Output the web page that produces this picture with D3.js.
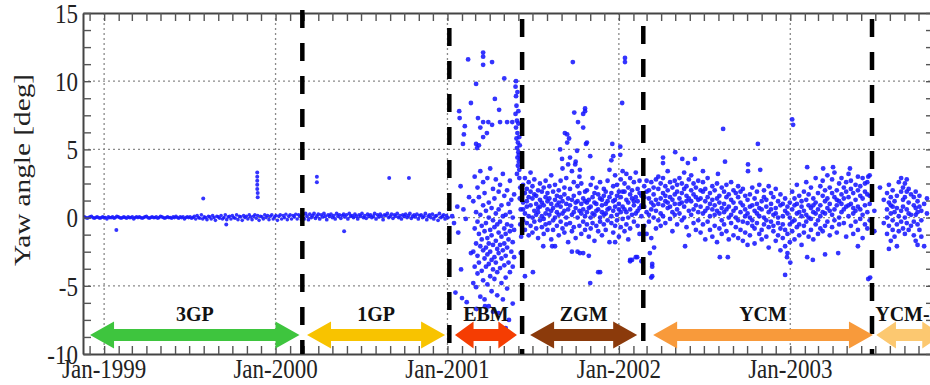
<!DOCTYPE html>
<html>
<head>
<meta charset="utf-8">
<script src="https://cdn.jsdelivr.net/npm/d3@7"></script>
<style>
  body { margin: 0; background: #fff; }
  svg text { font-family: "Liberation Serif", "DejaVu Serif", serif; }
</style>
</head>
<body>
<svg id="chart" width="930" height="385"></svg>
<script>
// days are counted from 1 Jan 1999, yaw in degrees
const lineStep = 3;
const gp3Start = -45;
const gp3Yaw = [
  0,.05,0,-.05,0,.05,.1,0,-.05,0, .05,0,-.05,0,.05,0,0,-.1,.05,0,
  0,.05,-.05,0,.1,.05,0,-.05,0,.05, 0,-.05,.05,0,0,.05,-.1,0,.05,0,
  .05,0,-.05,0,.05,.1,0,-.05,0,.05, 0,0,.05,-.05,0,.1,.05,0,-.05,0,
  .05,0,0,-.05,.05,0,.1,0,-.05,.05, 0,.05,-.1,0,.05,0,.05,-.05,0,.1,
  -.1,.15,0,-.05,.2,-.1,.05,0,-.15,.1, .05,-.1,.15,0,-.2,.1,.05,-.05,.15,-.1,
  0,.2,-.15,.05,.1,-.1,.15,0,-.05,.2, -.15,.1,.05,-.2,.15,0,.1,-.1,.2,.05,
  -.15,.1,.2,-.05,.15,-.2,.1,.05,-.1,.2, 0,.15,-.15,.1,.2,-.1,.05,.15,-.2,.1,
  .2,-.1,.15,0,.25,-.15,.1,.2,-.1,.15, .05,.25,-.1,.2,.1,-.15
];
const gp1Start = 423;
const gp1Yaw = [
  .2,-.1,.3,.1,-.15,.25,0,.15,.3,-.05, .1,.25,-.1,.2,.05,.3,.1,-.15,.2,.1,
  .25,0,.15,-.1,.3,.1,.2,-.05,.15,.25, .05,.2,-.1,.3,.1,.15,0,.25,.1,-.1,
  .2,.1,.3,0,.15,-.05,.25,.1,.2,0, .1,.3,-.1,.2,.05,.25,.1,-.15,.2,.15,
  .3,0,.1,.25,-.05,.2,.1,.3,0,.15, -.1,.2,.1,.25,0,.15,.3,-.05,.1,.2,
  .05,.25,-.1,.15,.2,0,.1,.3,-.15,.1, .2,0,.25,-.1,.1,.15,-.2,.3,0,.1,
  .2,-.1,.15,0
];
const gpOutliers = [
  [26,-.9],[211,1.4],[260,-.5],[326,3.3],[326,3.0],[326,2.7],[326,2.4],[326,2.1],[327,1.8],[327,1.5],
  [453,3.0],[453,2.6],[511,-1.0],[607,2.9],[649,2.9]
];

// rows: [day, yaw, yaw, ...]
const ebmYaw = [
  [741,0.1],[745,-0.4],[748,-5.5],[752,0.8],[754,-1.1],[759,2.3],[760,-3.8],[762,-5.9],[765,0.6],[770,-0.1],[772,-6.2],[777,1.5],[781,-2.6],
  [786,1.2,-2.5,-4.8],[789,3.0,-0.8,-3.6],[792,0.4,-1.9,-5.1],[795,2.2,-0.3,-2.8,-4.1],
  [798,1.5,-1.2,-3.3],[801,3.4,0.2,-2.1,-5.8],[804,-0.6,-1.6,-3.9],[807,2.6,0.9,-2.4,-4.6],
  [810,1.8,-1.0,-3.0,-6.0],[813,0.5,-0.4,-2.2,-3.6],[816,2.9,-1.5,-2.7,-4.9],[819,1.1,0.0,-1.9,-3.4,-6.5],
  [822,3.6,-0.9,-2.5,-4.3],[825,0.7,-1.3,-3.1,-5.4],[828,2.1,-0.2,-2.0,-3.8,-6.9],[831,1.4,-0.7,-2.9,-4.5],
  [834,2.8,0.3,-1.7,-3.3],[837,-0.5,-2.3,-4.0,-5.7],[840,1.9,0.6,-1.1,-2.6,-7.0],[843,2.4,-0.3,-2.0,-3.7],
  [846,0.9,-1.4,-3.0,-4.8],[849,3.2,0.1,-2.4,-6.0],[852,1.6,-0.8,-1.9,-3.5],[855,0.2,-1.2,-2.8,-4.4,-8.1],
  [858,2.0,-0.5,-2.2,-5.2],[861,1.0,-1.6,-3.3],[864,2.7,0.4,-1.0,-4.0],[867,1.3,-0.6,-2.5],
  [870,0.0,-1.8,-3.6,-6.3],[873,1.7,-0.9,-2.9],[862,-7.5],[793,-6.7],[811,-6.5],
  [756,7.8],[757,7.3],[764,5.4],[766,6.1],[768,6.7],[775,11.6],[781,8.4],[792,9.8,5.4],[794,5.1],
  [796,7.3],[798,5.3],[801,6.6],[807,12.1,11.8,11.2,7.0,5.9],[815,6.2],[818,7.0],[826,11.4,6.8],
  [832,8.7],[841,7.9],[843,7.0],[852,10.2],[858,7.0],[869,7.0],[877,10.0],
  [876,9.6,7.6],[877,8.9,6.6],[878,8.2,5.8],[879,7.1,5.1,3.2],[880,6.2,4.4,9.2],[881,5.5,3.8],
  [882,4.8,6.9,7.8],[883,4.1,4.6],[884,3.5,2.9,5.9],[885,5.3,1.4],[886,2.2,-0.5,4.3],[887,0.6,-2.6],[888,-1.4]
];

const zgmYaw = [
  [892,2.4,1.1,-0.2,0.6],[896,1.8,0.3,2.9,-0.9],[900,1.2,-0.4,2.1,0.8],[904,2.6,0.1,1.5,-1.3],
  [908,0.9,-0.6,1.9,3.3],[912,1.4,0.0,-1.1,2.3],[916,0.5,1.7,-0.3,2.8],[920,1.0,-0.8,0.2,1.6],
  [924,2.0,0.7,-1.5,0.4],[928,1.3,-0.2,2.5,0.8],[932,0.1,1.1,-0.7,1.9],[936,0.9,2.2,-0.1,-1.2],
  [940,1.5,0.3,-0.5,2.7],[944,0.6,-0.9,1.2,1.8],[948,0.2,1.4,-0.4,2.3],[952,1.0,-1.6,0.5,3.1],
  [956,0.7,1.9,-0.2,-0.9],[960,1.3,0.0,2.4,-2.1],[964,0.4,1.6,-0.6,0.9],[968,1.1,-1.3,2.0,0.2],
  [972,0.8,2.7,-0.3,1.5],[976,0.3,-0.8,1.2,3.6],[980,1.7,0.5,-1.1,2.2],[984,0.0,1.0,2.9,-0.5],
  [988,1.4,-1.8,0.6,3.9],[992,0.9,2.1,-0.4,4.4],[996,0.2,1.3,-1.0,3.4],[1000,1.6,0.4,-0.7,2.6],
  [1004,0.7,-1.5,1.1,4.1],[1008,1.2,0.0,2.3,-2.5],[1012,0.5,-0.6,1.8,3.0],[1016,1.0,2.5,-1.2,0.3],
  [1020,0.6,1.4,-0.3,-2.6],[1024,1.9,0.1,-0.9,1.2],[1028,0.4,2.0,-0.5,1.1],[1032,1.3,-1.4,0.7,-2.8],
  [1036,0.8,2.4,0.0,-0.8],[1040,1.5,-0.4,0.3,2.9],[1044,0.2,1.1,-1.7,1.8],[1048,1.0,0.5,-0.6,2.2],
  [1052,0.6,1.7,-1.0,-4.0],[1056,1.4,0.0,2.6,-0.3],[1060,0.9,-1.3,1.3,0.4],[1064,1.6,0.2,-0.5,2.1],
  [1068,0.3,1.9,-0.9,1.0],[1072,1.2,-0.2,2.7,0.6],[1076,0.7,1.5,-1.8,3.5],[1080,1.8,0.1,-0.4,4.2],
  [1084,0.5,2.3,-1.1,1.2],[1088,1.3,-0.6,0.8,3.1],[1092,0.2,1.6,-0.2,2.4],[1096,1.0,-1.4,0.6,1.9],
  [1100,1.5,0.4,2.8,-0.7],[1104,0.8,-0.1,1.9,3.4],[1108,1.9,0.6,-1.0,2.5],[1112,0.4,1.3,-0.5,3.2],
  [1116,1.1,2.2,0.0,-1.6],[1120,0.6,1.7,-0.8,2.9],[1124,1.4,0.2,-3.1,2.0],[1128,0.9,2.6,-0.3,1.2],
  [1132,0.3,1.5,-2.9,3.3],[1136,1.2,-0.6,2.1,0.5],[1140,0.7,1.8,-1.2,2.7],[1144,1.6,0.1,0.9,-3.2],
  [998,11.4],[1024,8.0,7.8],[1020,7.6,6.6],[1001,7.7],[1009,7.0],[986,6.1,5.5],[990,5.8],[981,6.2],
  [1026,5.4],[1028,5.5],[1082,5.4],[1084,4.5],[1099,4.6,5.2],[1035,4.5],[1109,11.7,11.4],[1103,8.4],
  [971,5.0],[975,4.3],[1003,3.9],[1013,3.5],[1007,4.9],
  [913,-4.0],[1035,-4.8],[1056,-4.0],[1088,-1.8],[1120,-3.1,-3.2],[1135,-2.9],[996,-2.5],[1013,-2.6],
  [896,-4.3],[954,-2.1],[935,-2.1]
];

const ycmYaw = [
  [1150,0.8,2.3,-0.6,1.5],[1155,1.9,-1.2,0.4,2.7],[1160,0.2,1.4,-0.3,2.0],[1165,1.1,2.6,-1.5,0.6],
  [1170,1.7,0.0,2.2,0.9],[1175,0.5,2.8,-0.8,1.3],[1180,2.1,1.0,-0.2,3.0],[1185,1.4,0.3,2.5,-0.6],
  [1190,0.9,1.8,2.9,0.1],[1195,2.3,1.2,-0.4,1.6],[1200,0.7,2.0,1.1,3.4],[1205,1.5,-0.1,2.6,0.8],
  [1210,2.2,1.3,0.4,-1.0],[1215,1.0,2.7,1.7,0.2],[1220,1.9,0.6,2.4,-0.5],[1225,0.3,1.4,2.9,1.0],
  [1230,2.5,1.1,-0.2,1.8],[1235,0.8,2.1,3.3,0.0],[1240,1.6,-0.7,2.3,1.2],[1245,2.8,0.5,1.4,-1.3],
  [1250,1.2,2.0,0.2,3.1],[1255,0.6,1.7,-0.4,2.5],[1260,2.2,0.9,1.5,-0.9],[1265,1.3,-0.2,2.7,0.4],
  [1270,0.8,2.0,-1.1,1.4],[1275,1.9,0.3,-0.5,2.6],[1280,0.5,1.2,-1.6,2.1],[1285,1.5,-0.3,0.7,2.9],
  [1290,0.1,1.8,-0.9,1.0],[1295,2.3,0.6,-1.4,1.3],[1300,0.9,-0.6,2.0,0.2],[1305,1.4,-1.8,0.5,2.5],
  [1310,0.3,1.6,-0.8,1.1],[1315,2.2,0.7,-0.2,-1.2],[1320,1.0,-0.5,1.9,0.4],[1325,0.6,2.4,-1.0,1.5],
  [1330,1.7,0.0,-1.6,0.8],[1335,0.2,1.3,2.6,-0.4],[1340,1.1,-1.3,0.5,2.0],[1345,0.7,1.8,-0.7,0.0],
  [1350,1.5,-0.2,2.3,-1.5],[1355,0.4,1.1,-0.9,1.9],[1360,-0.3,0.9,2.1,-1.7],[1365,0.6,-1.1,1.6,0.1],
  [1370,1.3,-0.4,0.3,-2.0],[1375,0.0,1.7,-1.3,0.8],[1380,0.9,-0.6,2.2,-0.2],[1385,-0.8,0.5,1.4,-1.9],
  [1390,0.3,1.9,-0.4,1.0],[1395,-1.2,0.7,2.4,0.1],[1400,0.6,-0.9,1.2,-1.6],[1405,1.5,0.0,-0.5,2.0],
  [1410,-0.2,0.8,-1.4,1.3],[1415,0.4,2.3,-0.7,-2.2],[1420,1.0,-0.3,0.6,1.8],[1425,-1.0,0.2,1.5,-0.6],
  [1430,0.7,-1.7,2.1,0.3],[1435,-0.4,1.2,0.0,-1.3],[1440,0.9,-0.8,1.7,-2.4],[1445,0.1,-1.5,1.0,-0.5],
  [1450,-0.9,0.5,-2.1,1.4],[1455,0.3,-1.2,-2.6,0.8],[1460,-0.5,1.1,-1.8,0.0],[1465,0.6,-1.0,1.9,-0.3],
  [1470,-0.2,1.4,-1.6,0.9],[1475,1.0,-0.7,0.3,2.4],[1480,-1.3,0.4,1.6,-0.5],[1485,0.8,-2.0,0.1,1.2],
  [1490,-0.6,1.9,0.5,-1.1],[1495,1.3,-0.3,2.6,0.2],[1500,0.0,-1.4,0.9,1.7],[1505,0.7,-0.9,2.2,-0.1],
  [1510,-1.6,0.4,1.4,0.9],[1515,1.1,-0.5,2.9,0.3],[1520,-0.2,1.8,-1.2,0.6],[1525,0.9,0.1,2.3,-0.8],
  [1530,1.6,-1.0,0.4,2.7],[1535,0.3,1.2,-0.6,2.0],[1540,1.4,-0.3,3.1,0.7],[1545,0.5,2.2,-1.3,1.0],
  [1550,1.8,0.2,2.8,-0.7],[1555,0.6,1.5,-0.2,3.3],[1560,2.0,0.9,-1.1,1.3],[1565,1.2,2.5,0.0,-0.5],
  [1570,0.4,1.7,2.9,1.0],[1575,2.2,-0.4,1.4,0.6],[1580,0.8,2.6,-1.4,1.9],[1585,1.5,0.1,3.2,0.9],
  [1590,2.1,1.0,-0.6,2.7],[1595,0.3,1.8,0.7,-1.2],[1600,1.3,2.4,-0.3,0.5],[1605,2.0,0.8,3.0,-0.9],
  [1610,0.6,1.6,-0.1,2.3],[1615,1.4,2.9,0.2,-1.5],[1620,0.9,-0.5,1.9,2.5],[1625,1.7,0.4,2.6,-0.8],
  [1630,1.0,3.1,-0.2,1.6],
  [1318,6.5],[1392,5.4],[1190,4.4,4.0],[1216,4.8],[1258,4.3],[1231,4.3],[1243,4.0],[1322,4.1],
  [1371,3.9,3.4],[1397,3.5],[1307,3.2],[1465,7.2],[1467,6.8],[1497,3.7],[1531,3.6],[1552,3.7],
  [1588,3.6],[1627,3.0],[1275,3.4],
  [1328,-2.9],[1311,-2.9],[1167,-3.6,-4.3,-3.4],[1162,-2.6],[1165,-4.4],[1171,-2.2],[1237,-2.1],
  [1454,-2.9],[1450,-4.2],[1461,-3.3],[1497,-2.9],[1509,-3.1],[1535,-2.7],[1563,-2.6],[1605,-2.1],
  [1631,-4.4],[1627,-4.5]
];

const ycmbYaw = [
  [1640,0.5,-1.0],[1652,2.2],[1660,1.3,-0.4],[1667,0.6,1.8,-1.2,0.0],[1671,1.1,-0.6,2.4,-2.3],
  [1675,0.3,1.5,-1.7,0.9],[1679,-0.2,0.8,2.0,-0.9],[1683,1.2,-1.4,0.4],[1688,0.7,-0.5,1.6,-2.1],
  [1692,0.1,2.6,-1.0],[1697,1.9,0.5,2.9,-0.3],[1701,1.3,-0.8,2.2,0.8],[1705,2.5,0.0,1.5,-1.2],
  [1709,0.6,1.9,-0.4,2.8],[1713,1.1,-0.9,0.3,2.1],[1718,1.7,0.2,-0.6],[1724,0.9,-1.3,1.5,-0.3],
  [1728,0.2,1.9,-1.7,0.7],[1732,-0.5,1.2,-2.0,0.4],[1736,0.8,-0.9,1.6],[1740,-0.2,0.5,-1.4],
  [1746,1.0,-2.1],[1752,0.3,1.4]
];

const modeNames = ["3GP", "1GP", "EBM", "ZGM", "YCM", "YCM-B"];
const modeFrom = ["1998-12-02", "2000-03-08", "2001-01-17", "2001-06-26", "2002-03-15", "2003-07-03"];
const modeTo = ["2000-02-21", "2000-12-27", "2001-05-29", "2002-02-09", "2003-06-26", "2003-11-20"];
const modeColors = ["#3ec53e", "#f8c300", "#f53d02", "#8b3a0b", "#f89a3b", "#fcc870"];
const switchDates = ["2000-02-27", "2001-01-05", "2001-06-09", "2002-02-22", "2003-06-24"];
const yearTicks = ["1999-01-01", "2000-01-01", "2001-01-01", "2002-01-01", "2003-01-01"];
const yLabels = [-10, -5, 0, 5, 10, 15];

const t0 = Date.UTC(1999, 0, 1);
const toDate = d => new Date(t0 + d * 864e5);
const parse = s => new Date(s + "T00:00:00Z");

const margin = { left: 83, right: 934, top: 13, bottom: 354 };
const stretch = 1.22; // the source figure is stretched vertically

const svg = d3.select("#chart");

const x = d3.scaleUtc()
  .domain([parse("1998-11-17"), parse("2003-11-03")])
  .range([margin.left, margin.right]);
const y = d3.scaleLinear().domain([-10, 15]).range([margin.bottom, margin.top]);

// gather all samples: [day, yaw, radius]
const points = [];
gp3Yaw.forEach((v, i) => points.push([gp3Start + i * lineStep, v, 1.8]));
gp1Yaw.forEach((v, i) => points.push([gp1Start + i * lineStep, v, 1.9]));
gpOutliers.forEach(p => points.push([p[0], p[1], 2]));
[ebmYaw, zgmYaw, ycmYaw, ycmbYaw].forEach(rows =>
  rows.forEach(r => r.slice(1).forEach(v => points.push([r[0], v, 2.4]))));

// grid
const grid = svg.append("g")
  .attr("stroke", "#8a8a8a").attr("stroke-width", 1.3).attr("stroke-dasharray", "2,3");
grid.selectAll(".gx").data(yearTicks).join("line")
  .attr("x1", d => x(parse(d))).attr("x2", d => x(parse(d)))
  .attr("y1", margin.top).attr("y2", margin.bottom);
grid.selectAll(".gy").data([-5, 0, 5, 10]).join("line")
  .attr("x1", margin.left).attr("x2", margin.right)
  .attr("y1", d => y(d)).attr("y2", d => y(d));

// scatter
svg.append("defs").append("clipPath").attr("id", "plot")
  .append("rect").attr("x", margin.left).attr("y", margin.top)
  .attr("width", margin.right - margin.left).attr("height", margin.bottom - margin.top);

svg.append("g").attr("clip-path", "url(#plot)")
  .selectAll("circle").data(points).join("circle")
  .attr("cx", d => x(toDate(d[0])))
  .attr("cy", d => y(d[1]))
  .attr("r", d => d[2])
  .attr("fill", "#1818ff")
  .attr("fill-opacity", 0.88);

// axes (ticks only, inward)
const months = d3.utcMonth.range(parse("1998-12-01"), parse("2003-11-02"));
const minorY = d3.range(-10, 15.01, 1.25);
const styleAxis = g => {
  g.select(".domain").attr("stroke", "#444").attr("stroke-width", 2);
  g.selectAll(".tick line").attr("stroke", "#555").attr("stroke-width", 1.4);
  g.selectAll(".tick text").remove();
};
svg.append("g").attr("transform", `translate(0,${margin.bottom})`)
  .call(d3.axisBottom(x).tickValues(months).tickSize(-8).tickSizeOuter(0)).call(styleAxis);
svg.append("g").attr("transform", `translate(0,${margin.top})`)
  .call(d3.axisTop(x).tickValues(months).tickSize(-8).tickSizeOuter(0)).call(styleAxis);
svg.append("g").attr("transform", `translate(${margin.left},0)`)
  .call(d3.axisLeft(y).tickValues(minorY).tickSize(-8).tickSizeOuter(0)).call(styleAxis);
svg.append("g").attr("transform", `translate(${margin.right},0)`)
  .call(d3.axisRight(y).tickValues(minorY).tickSize(-8).tickSizeOuter(0)).call(styleAxis);

// tick labels
svg.append("g").selectAll("text").data(yLabels).join("text")
  .attr("transform", d => `translate(${margin.left - 5},${y(d)}) scale(1,${stretch})`)
  .attr("dy", "0.35em").attr("text-anchor", "end")
  .attr("font-size", 23).attr("fill", "#222")
  .text(d => d);

const fmt = d3.utcFormat("%b-%Y");
svg.append("g").selectAll("text").data(yearTicks).join("text")
  .attr("transform", d => `translate(${x(parse(d))},378) scale(1,${stretch})`)
  .attr("text-anchor", "middle")
  .attr("font-size", 23).attr("fill", "#222")
  .text(d => fmt(parse(d)));

svg.append("text")
  .attr("transform", `translate(30,170) scale(1,${stretch}) rotate(-90)`)
  .attr("text-anchor", "middle")
  .attr("font-size", 24).attr("fill", "#222")
  .text("Yaw angle [deg]");

// mode switch lines
const dashTop = [10, 28, 19, 26, 19];
svg.append("g").selectAll("line").data(switchDates).join("line")
  .attr("x1", d => x(parse(d))).attr("x2", d => x(parse(d)))
  .attr("y1", (d, i) => dashTop[i]).attr("y2", margin.bottom)
  .attr("stroke", "#000").attr("stroke-width", 4.5)
  .attr("stroke-dasharray", "18,15");

// mode arrows
const yc = 335, hh = 13.5, sh = 6;
const arrowPath = (x0, x1) => {
  const hl = Math.min(24, (x1 - x0) * 0.3);
  return `M${x0},${yc}L${x0 + hl},${yc - hh}L${x0 + hl},${yc - sh}L${x1 - hl},${yc - sh}` +
    `L${x1 - hl},${yc - hh}L${x1},${yc}L${x1 - hl},${yc + hh}L${x1 - hl},${yc + sh}` +
    `L${x0 + hl},${yc + sh}L${x0 + hl},${yc + hh}Z`;
};
const modes = svg.append("g").selectAll("g").data(modeNames).join("g");
modes.append("path")
  .attr("d", (d, i) => arrowPath(x(parse(modeFrom[i])), x(parse(modeTo[i]))))
  .attr("fill", (d, i) => modeColors[i]);
modes.append("text")
  .attr("x", (d, i) => (x(parse(modeFrom[i])) + x(parse(modeTo[i]))) / 2)
  .attr("y", 321)
  .attr("text-anchor", "middle")
  .attr("font-size", 20).attr("font-weight", "bold").attr("fill", "#111")
  .text(d => d);
</script>
</body>
</html>
